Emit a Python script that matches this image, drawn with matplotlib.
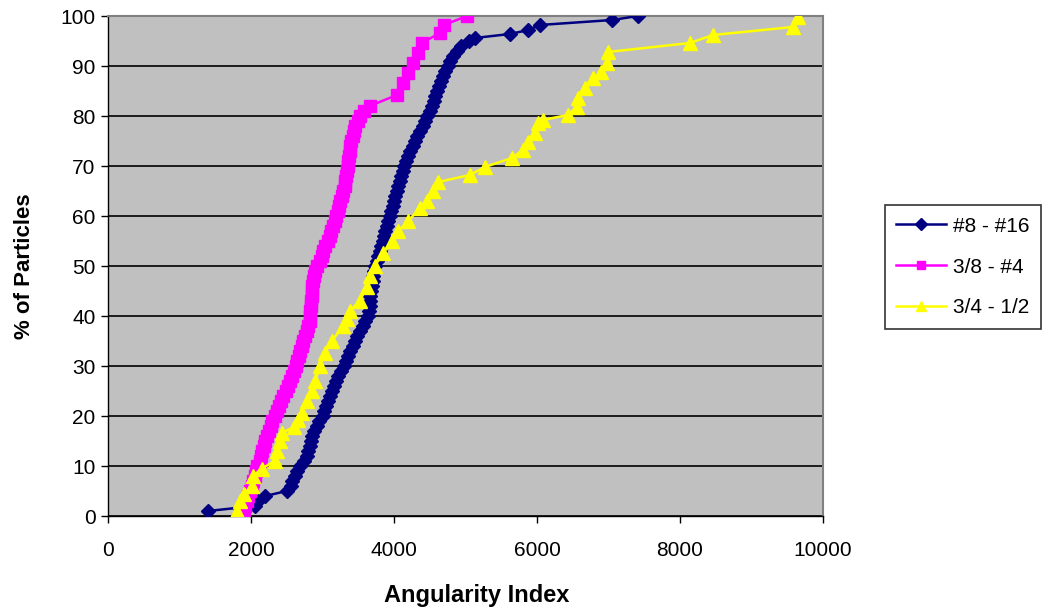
import matplotlib
matplotlib.use("Agg")
import matplotlib.pyplot as plt

# ---- data ----
blue_label = "#8 - #16"
blue_x = [1400, 2050, 2100, 2200, 2500, 2560, 2580, 2620, 2650, 2690,
          2740, 2780, 2800, 2820, 2840, 2860, 2880, 2920, 2950, 3000,
          3020, 3050, 3070, 3100, 3130, 3160, 3190, 3220, 3260, 3300,
          3330, 3360, 3390, 3420, 3450, 3480, 3520, 3560, 3600, 3640,
          3650, 3660, 3660, 3670, 3680, 3690, 3700, 3710, 3720, 3740,
          3760, 3780, 3800, 3820, 3840, 3860, 3880, 3900, 3920, 3940,
          3960, 3980, 4000, 4020, 4040, 4060, 4080, 4100, 4120, 4140,
          4170, 4200, 4230, 4260, 4290, 4320, 4360, 4400, 4430, 4460,
          4500, 4530, 4560, 4580, 4600, 4630, 4660, 4690, 4720, 4750,
          4790, 4830, 4880, 4940, 5050, 5130, 5620, 5880, 6040, 7050, 7410]
blue_y = [1, 2, 3, 4, 5, 6, 7, 8, 9, 10,
          11, 12, 13, 14, 15, 16, 17, 18, 19, 20,
          21, 22, 23, 24, 25, 26, 27, 28, 29, 30,
          31, 32, 33, 34, 35, 36, 37, 38, 39, 40,
          41, 42, 43, 44, 45, 46, 47, 48, 49, 50,
          51, 52, 53, 54, 55, 56, 57, 58, 59, 60,
          61, 62, 63, 64, 65, 66, 67, 68, 69, 70,
          71, 72, 73, 74, 75, 76, 77, 78, 79, 80,
          81, 82, 83, 84, 85, 86, 87, 88, 89, 90,
          91, 92, 93, 94, 95, 95.6, 96.4, 97.2, 98.2, 99.2, 100]

magenta_label = "3/8 - #4"
magenta_x = [1900, 1920, 1940, 1960, 1990, 2010, 2030, 2050, 2070, 2090,
             2120, 2140, 2160, 2180, 2200, 2220, 2250, 2280, 2300, 2330,
             2360, 2390, 2420, 2450, 2490, 2520, 2550, 2580, 2600, 2630,
             2650, 2670, 2690, 2710, 2730, 2750, 2780, 2800, 2820, 2830,
             2830, 2840, 2840, 2850, 2850, 2860, 2870, 2880, 2900, 2930,
             2960, 2990, 3010, 3040, 3070, 3100, 3120, 3150, 3170, 3190,
             3210, 3230, 3250, 3270, 3290, 3310, 3320, 3330, 3340, 3350,
             3360, 3370, 3380, 3390, 3400, 3420, 3440, 3460, 3490, 3530,
             3580, 3660, 4040, 4130, 4200, 4270, 4340, 4390, 4640, 4700, 5020]
magenta_y = [1, 2, 3, 4, 5, 6, 7, 8, 9, 10,
             11, 12, 13, 14, 15, 16, 17, 18, 19, 20,
             21, 22, 23, 24, 25, 26, 27, 28, 29, 30,
             31, 32, 33, 34, 35, 36, 37, 38, 39, 40,
             41, 42, 43, 44, 45, 46, 47, 48, 49, 50,
             51, 52, 53, 54, 55, 56, 57, 58, 59, 60,
             61, 62, 63, 64, 65, 66, 67, 68, 69, 70,
             71, 72, 73, 74, 75, 76, 77, 78, 79, 80,
             81, 82, 84.2, 86.6, 88.6, 90.6, 92.6, 94.6, 96.6, 98.2, 100]

yellow_label = "3/4 - 1/2"
yellow_x = [1800, 1850, 1900, 2010, 2030, 2150, 2340, 2370, 2400, 2430,
            2600, 2660, 2710, 2780, 2850, 2900, 2960, 3030, 3130, 3290,
            3340, 3380, 3520, 3620, 3660, 3730, 3850, 3970, 4060, 4200,
            4360, 4460, 4550, 4620, 5060, 5270, 5650, 5800, 5870, 5970,
            6010, 6080, 6430, 6560, 6580, 6670, 6780, 6900, 6980, 6990,
            8140, 8460, 9580, 9650]
yellow_y = [1, 3, 4.5, 6, 8, 9.5, 11, 13, 15, 16.6,
            17.8, 19.2, 20.6, 23, 25, 27, 30, 32.6, 35, 38,
            39.5, 41, 43, 45.8, 48, 50, 52.6, 55, 57, 59,
            61.6, 63, 65, 66.8, 68.2, 69.8, 71.6, 73.2, 74.8, 76.6,
            78.6, 79.2, 80.2, 81.8, 83.6, 85.6, 87.6, 88.8, 90.6, 92.8,
            94.6, 96.2, 97.8, 99.8]

x_ticks = [0, 2000, 4000, 6000, 8000, 10000]
y_ticks = [0, 10, 20, 30, 40, 50, 60, 70, 80, 90, 100]
x_title = "Angularity Index"
y_title = "% of Particles"

# ---- figure ----
plt.rcParams['font.family'] = ['Liberation Sans', 'DejaVu Sans']
fig = plt.figure(figsize=(10.53, 6.16), dpi=100)
ax = fig.add_axes([108 / 1053, 1 - 516 / 616, (823 - 108) / 1053, 500 / 616])
ax.set_facecolor('#C0C0C0')

ax.plot(blue_x, blue_y, color='#000080', marker='D', markersize=7.5, linewidth=1.8,
        label=blue_label, zorder=3)
ax.plot(magenta_x, magenta_y, color='#FF00FF', marker='s', markersize=8, linewidth=1.8,
        label=magenta_label, zorder=3)
ax.plot(yellow_x, yellow_y, color='#FFFF00', marker='^', markersize=9.5, linewidth=1.8,
        label=yellow_label, zorder=3)

ax.set_xlim(0, 10000)
ax.set_ylim(0, 100)
ax.set_xticks(x_ticks)
ax.set_yticks(y_ticks)
ax.yaxis.grid(True, color='black', linewidth=1.2)
ax.set_axisbelow(True)
ax.tick_params(axis='both', direction='out', length=5, width=1, colors='black',
               labelsize=15)
ax.tick_params(axis='y', pad=4)
ax.tick_params(axis='x', pad=13)
for side in ['left', 'bottom']:
    ax.spines[side].set_color('black')
    ax.spines[side].set_linewidth(1)
for side in ['right', 'top']:
    ax.spines[side].set_color('#808080')
    ax.spines[side].set_linewidth(1.5)

ax.set_xlabel(x_title, fontsize=17, fontweight='bold')
ax.xaxis.set_label_coords((477 - 108) / 715, (516 - 584) / 500)
ax.set_ylabel(y_title, fontsize=16, fontweight='bold')
ax.yaxis.set_label_coords((35 - 108) / 715, 0.5)

leg = ax.legend(loc='center left', bbox_to_anchor=(885 / 1053, 1 - 267 / 616),
                bbox_transform=fig.transFigure, frameon=True, fancybox=False,
                edgecolor='black', fontsize=15, handlelength=2.4,
                labelspacing=1.05, borderpad=0.55, handletextpad=0.3,
                borderaxespad=0, markerscale=0.8)
leg.get_frame().set_linewidth(1.2)

fig.savefig('out.png', dpi=100)
